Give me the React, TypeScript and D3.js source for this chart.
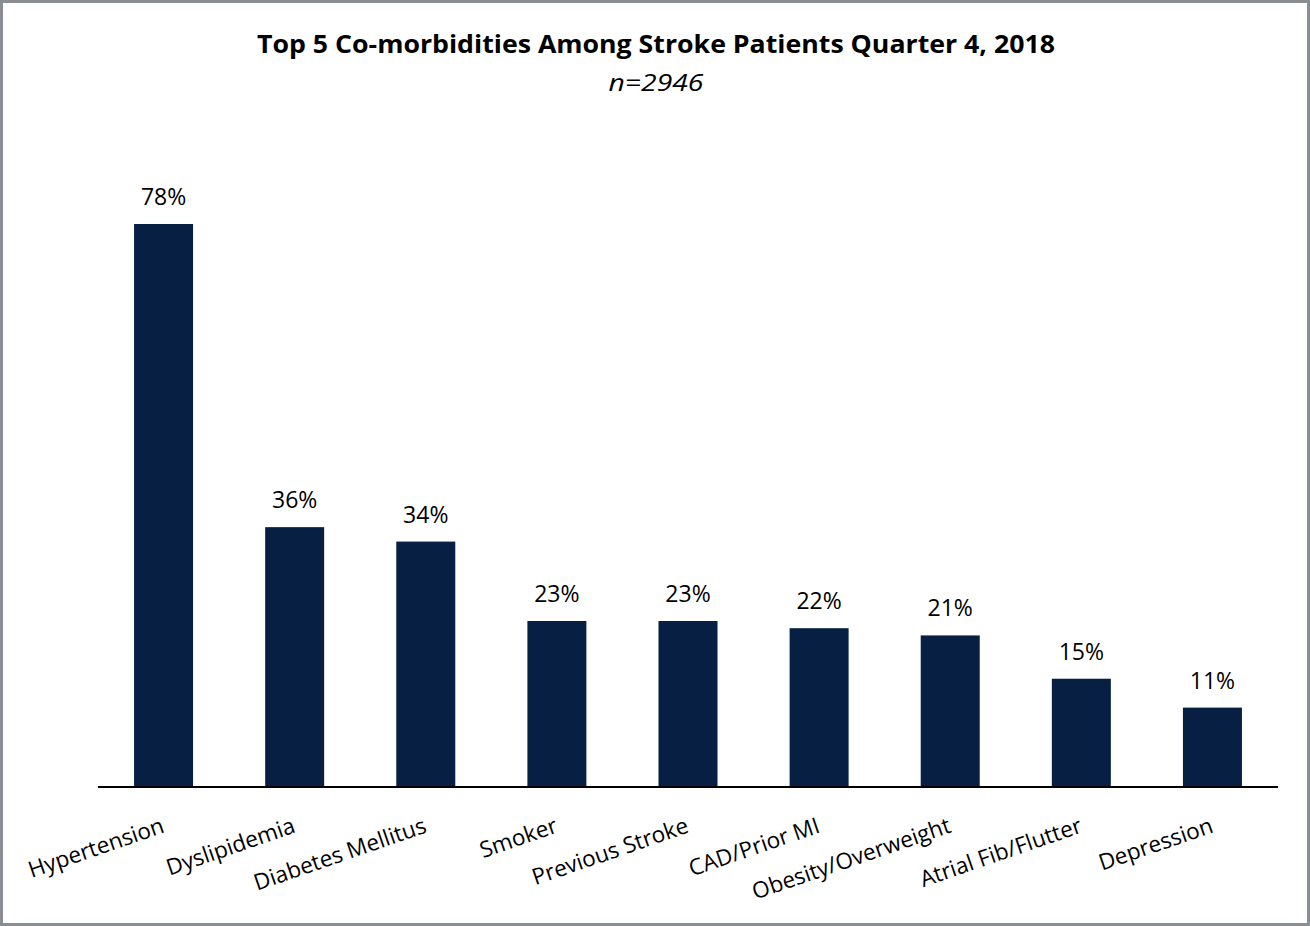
import React from "react";
import * as d3 from "d3";

const categories = ["Hypertension", "Dyslipidemia", "Diabetes Mellitus", "Smoker", "Previous Stroke", "CAD/Prior MI", "Obesity/Overweight", "Atrial Fib/Flutter", "Depression"];
const values = [78, 36, 34, 23, 23, 22, 21, 15, 11];
const title = "Top 5 Co-morbidities Among Stroke Patients Quarter 4, 2018";
const subtitle = "n=2946";

const W = 1310, H = 926;
const FONT = "'Open Sans', sans-serif";

export default function App() {
  const x = d3.scaleBand<string>().domain(categories).range([98, 1278]).paddingInner(0.55).paddingOuter(0.275);
  const y = d3.scaleLinear().domain([0, 78]).range([787, 224]);
  return (
    <svg width={W} height={H} style={{ position: "absolute", left: 0, top: 0 }}>
      <rect x={1.5} y={1.5} width={W - 3} height={H - 3} fill="#fff" stroke="#8a8d92" strokeWidth={3} />
      <text x={656} y={53} textAnchor="middle" fontFamily={FONT} fontWeight={700} fontSize={25} textLength={798} lengthAdjust="spacingAndGlyphs" fill="#000">{title}</text>
      <text x={656} y={91} textAnchor="middle" fontFamily={FONT} fontStyle="italic" fontSize={24} textLength={95} lengthAdjust="spacingAndGlyphs" fill="#000">{subtitle}</text>
      {categories.map((c, i) => (
        <g key={c}>
          <rect x={x(c)} y={y(values[i])} width={x.bandwidth()} height={y(0) - y(values[i])} fill="#061f42" />
          <text x={(x(c) as number) + x.bandwidth() / 2} y={y(values[i]) - 19} textAnchor="middle" fontFamily={FONT} fontSize={23} fill="#000">{values[i]}%</text>
          <text transform={`translate(${(x(c) as number) + x.bandwidth() / 2 + 2},${832}) rotate(-19)`} textAnchor="end" fontFamily={FONT} fontSize={22.5} fill="#000">{c}</text>
        </g>
      ))}
      <line x1={98} x2={1278} y1={787} y2={787} stroke="#000" strokeWidth={2} />
    </svg>
  );
}
